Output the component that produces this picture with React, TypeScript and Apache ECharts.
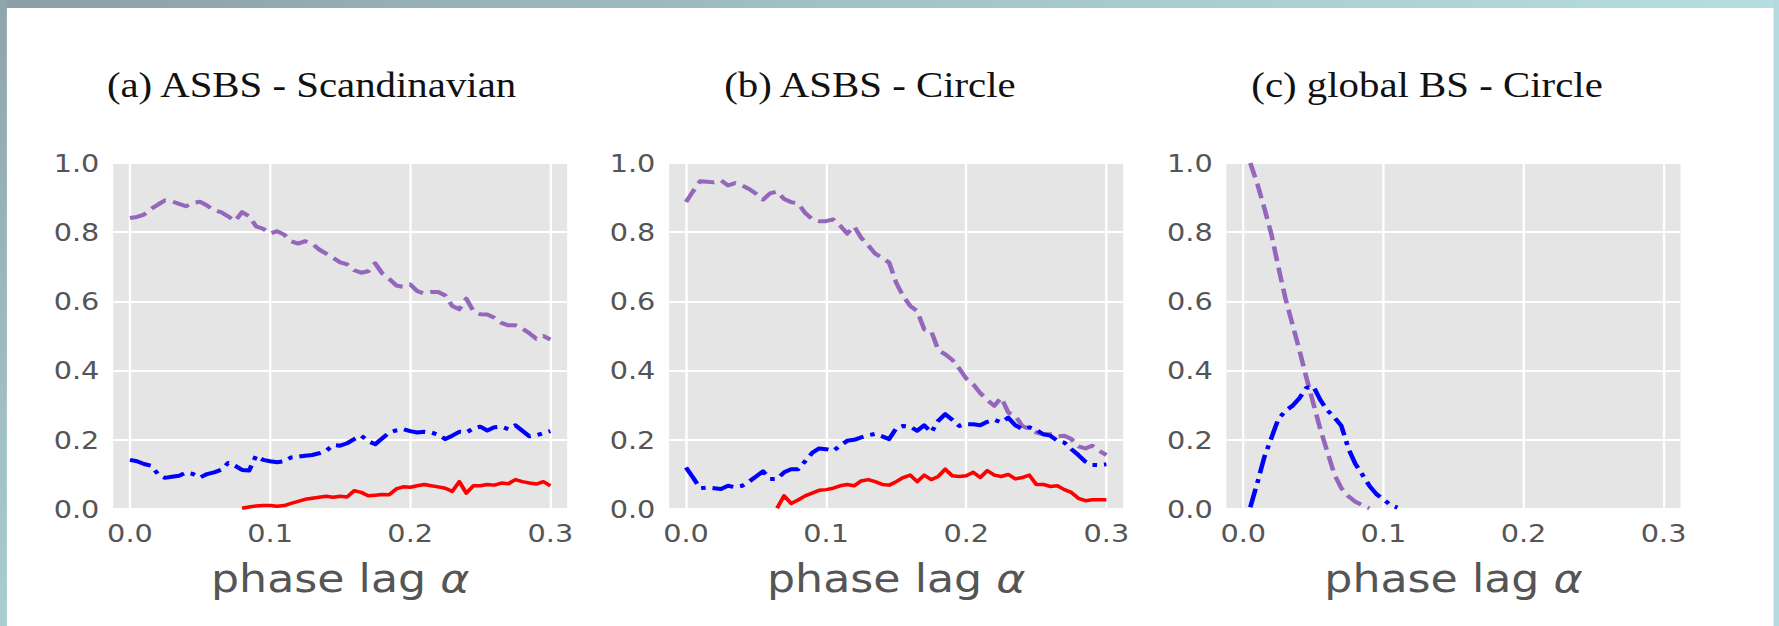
import React, { useEffect, useRef } from "react";
import * as echarts from "echarts";

// phase lag alpha values (x)
const ALPHA = [
  0, 0.005, 0.01, 0.015, 0.02, 0.025, 0.03, 0.035, 0.04, 0.045,
  0.05, 0.055, 0.06, 0.065, 0.07, 0.075, 0.08, 0.085, 0.09, 0.095,
  0.1, 0.105, 0.11, 0.115, 0.12, 0.125, 0.13, 0.135, 0.14, 0.145,
  0.15, 0.155, 0.16, 0.165, 0.17, 0.175, 0.18, 0.185, 0.19, 0.195,
  0.2, 0.205, 0.21, 0.215, 0.22, 0.225, 0.23, 0.235, 0.24, 0.245,
  0.25, 0.255, 0.26, 0.265, 0.27, 0.275, 0.28, 0.285, 0.29, 0.295, 0.3,
];

// (a) ASBS - Scandinavian
const PURPLE_A = [
  0.841, 0.844, 0.851, 0.867, 0.88, 0.892, 0.889, 0.882, 0.875, 0.885,
  0.888, 0.877, 0.863, 0.858, 0.846, 0.832, 0.858, 0.846, 0.817, 0.81,
  0.796, 0.803, 0.793, 0.774, 0.767, 0.774, 0.767, 0.75, 0.738, 0.726,
  0.713, 0.707, 0.69, 0.683, 0.687, 0.71, 0.681, 0.665, 0.646, 0.642,
  0.649, 0.63, 0.623, 0.627, 0.627, 0.617, 0.587, 0.577, 0.608, 0.572,
  0.563, 0.562, 0.553, 0.538, 0.531, 0.531, 0.521, 0.508, 0.492, 0.5, 0.49,
];
const BLUE_A = [
  0.142, 0.138, 0.13, 0.125, 0.101, 0.09, 0.093, 0.096, 0.105, 0.101,
  0.091, 0.101, 0.106, 0.113, 0.133, 0.125, 0.113, 0.111, 0.154, 0.142,
  0.138, 0.135, 0.138, 0.149, 0.151, 0.154, 0.156, 0.161, 0.168, 0.185,
  0.183, 0.19, 0.202, 0.212, 0.196, 0.187, 0.204, 0.221, 0.227, 0.231,
  0.225, 0.221, 0.223, 0.221, 0.215, 0.202, 0.212, 0.223, 0.221, 0.233,
  0.238, 0.227, 0.236, 0.238, 0.231, 0.242, 0.226, 0.21, 0.213, 0.219, 0.225,
];
const RED_A = [
  null, null, null, null, null, null, null, null, null, null,
  null, null, null, null, null, null, 0.002, 0.006, 0.009, 0.01,
  0.01, 0.008, 0.01, 0.016, 0.022, 0.028, 0.031, 0.034, 0.037, 0.034,
  0.037, 0.035, 0.053, 0.048, 0.038, 0.04, 0.042, 0.041, 0.058, 0.064,
  0.063, 0.067, 0.071, 0.067, 0.064, 0.06, 0.051, 0.079, 0.046, 0.067,
  0.067, 0.071, 0.069, 0.075, 0.073, 0.085, 0.079, 0.075, 0.072, 0.079, 0.067,
];

// (b) ASBS - Circle
const PURPLE_B = [
  0.887, 0.918, 0.947, 0.946, 0.944, 0.95, 0.935, 0.942, 0.935, 0.925,
  0.911, 0.894, 0.912, 0.918, 0.896, 0.887, 0.883, 0.856, 0.838, 0.832,
  0.832, 0.837, 0.819, 0.796, 0.817, 0.784, 0.762, 0.738, 0.726, 0.712,
  0.654, 0.615, 0.587, 0.572, 0.519, 0.514, 0.46, 0.447, 0.431, 0.406,
  0.377, 0.36, 0.335, 0.315, 0.298, 0.322, 0.279, 0.269, 0.24, 0.231,
  0.221, 0.216, 0.216, 0.21, 0.212, 0.202, 0.181, 0.175, 0.183, 0.168, 0.156,
];
const BLUE_B = [
  0.12, 0.091, 0.06, 0.062, 0.06, 0.058, 0.067, 0.063, 0.067, 0.079,
  0.094, 0.109, 0.087, 0.087, 0.106, 0.115, 0.115, 0.138, 0.162, 0.175,
  0.173, 0.168, 0.183, 0.197, 0.2, 0.207, 0.213, 0.217, 0.21, 0.202,
  0.233, 0.24, 0.238, 0.226, 0.242, 0.221, 0.255, 0.274, 0.258, 0.24,
  0.245, 0.245, 0.242, 0.252, 0.258, 0.25, 0.264, 0.242, 0.231, 0.236,
  0.229, 0.216, 0.212, 0.197, 0.192, 0.173, 0.156, 0.137, 0.127, 0.127, 0.129,
];
const RED_B = [
  null, null, null, null, null, null, null, null, null, null,
  null, null, null, 0.002, 0.038, 0.016, 0.026, 0.038, 0.046, 0.054,
  0.056, 0.06, 0.067, 0.071, 0.067, 0.081, 0.085, 0.079, 0.071, 0.069,
  0.079, 0.091, 0.098, 0.079, 0.098, 0.085, 0.094, 0.115, 0.096, 0.094,
  0.096, 0.106, 0.091, 0.111, 0.098, 0.094, 0.1, 0.087, 0.091, 0.098,
  0.071, 0.071, 0.065, 0.067, 0.056, 0.048, 0.031, 0.024, 0.027, 0.027, 0.027,
];

// (c) global BS - Circle
const PURPLE_C = [
  null, 1.0, 0.94, 0.87, 0.795, 0.7, 0.61, 0.535, 0.46, 0.38,
  0.305, 0.23, 0.165, 0.1, 0.06, 0.037, 0.021, 0.011, 0.002,
];
const BLUE_C = [
  null, 0.005, 0.075, 0.15, 0.205, 0.26, 0.283, 0.298, 0.32, 0.35,
  0.354, 0.315, 0.285, 0.265, 0.24, 0.175, 0.13, 0.099, 0.067, 0.043,
  0.028, 0.012, 0.004,
];
const RED_C: (number | null)[] = [];

const TITLES = ["(a) ASBS - Scandinavian", "(b) ASBS - Circle", "(c) global BS - Circle"];
const X_NAME = "phase lag ";
const X_SYMBOL = "α";

const PANELS = [
  { purple: PURPLE_A, blue: BLUE_A, red: RED_A },
  { purple: PURPLE_B, blue: BLUE_B, red: RED_B },
  { purple: PURPLE_C, blue: BLUE_C, red: RED_C },
];

// layout (in unscaled chart coordinates; the whole chart is stretched horizontally)
const SX = 1.15;
const FULL_W = 1779;
const FULL_H = 626;
const W = FULL_W / SX;
const GRID_LEFT = [98.4, 581.9, 1066.5];
const GRID_W = 394.8;
const GRID_TOP = 163;
const GRID_H = 346;
const TITLE_X = [270.9, 756.5, 1240.9];

const FONT = "DejaVu Sans";
const TICK_COLOR = "#555555";

function pairs(vals: (number | null)[]) {
  const out: [number, number][] = [];
  vals.forEach((v, i) => {
    if (v !== null && v !== undefined) out.push([ALPHA[i], v]);
  });
  return out;
}

export default function App() {
  const ref = useRef<HTMLDivElement>(null);

  useEffect(() => {
    if (!ref.current) return;
    const chart = echarts.init(ref.current, null, { renderer: "svg" });

    const grid = GRID_LEFT.map((l) => ({
      left: l,
      top: GRID_TOP,
      width: GRID_W,
      height: GRID_H,
      show: true,
      backgroundColor: "#e5e5e5",
      borderWidth: 0,
    }));

    const xAxis = GRID_LEFT.map((_, i) => ({
      type: "value",
      gridIndex: i,
      min: -0.012,
      max: 0.312,
      splitNumber: 3,
      minInterval: 0.1,
      maxInterval: 0.1,
      axisLine: { show: false },
      axisTick: { show: false },
      axisLabel: {
        showMinLabel: false,
        showMaxLabel: false,
        formatter: (v: number) => v.toFixed(1),
        fontFamily: FONT,
        fontSize: 25,
        color: TICK_COLOR,
        margin: 12,
      },
      splitLine: {
        show: true,
        showMinLine: false,
        showMaxLine: false,
        lineStyle: { color: "#ffffff", width: 2 },
      },
      name: `{t|${X_NAME}}{a|${X_SYMBOL}}`,
      nameLocation: "middle",
      nameGap: 50,
      nameTextStyle: {
        fontFamily: FONT,
        fontSize: 38.5,
        color: TICK_COLOR,
        rich: {
          t: { fontFamily: FONT, fontSize: 38.5, color: TICK_COLOR },
          a: { fontFamily: FONT, fontSize: 38.5, color: TICK_COLOR, fontStyle: "italic" },
        },
      },
    }));

    const yAxis = GRID_LEFT.map((_, i) => ({
      type: "value",
      gridIndex: i,
      min: 0,
      max: 1,
      interval: 0.2,
      axisLine: { show: false },
      axisTick: { show: false },
      axisLabel: {
        formatter: (v: number) => v.toFixed(1),
        fontFamily: FONT,
        fontSize: 25,
        color: TICK_COLOR,
        margin: 12,
        padding: [0, 0, 6, 0],
      },
      splitLine: { show: true, lineStyle: { color: "#ffffff", width: 2 } },
    }));

    const series: any[] = [];
    PANELS.forEach((p, i) => {
      series.push({
        type: "line",
        xAxisIndex: i,
        yAxisIndex: i,
        data: pairs(p.purple),
        symbol: "none",
        showSymbol: false,
        silent: true,
        lineStyle: { color: "#9467bd", width: 4, type: [15, 6.5], join: "round", cap: "butt" },
      });
      series.push({
        type: "line",
        xAxisIndex: i,
        yAxisIndex: i,
        data: pairs(p.blue),
        symbol: "none",
        showSymbol: false,
        silent: true,
        lineStyle: { color: "#0000ff", width: 4, type: [19, 6, 4, 6], join: "round", cap: "butt" },
      });
      series.push({
        type: "line",
        xAxisIndex: i,
        yAxisIndex: i,
        data: pairs(p.red),
        symbol: "none",
        showSymbol: false,
        silent: true,
        lineStyle: { color: "#ff0000", width: 3.5, join: "round" },
      });
    });

    const graphic: any[] = [
      {
        type: "rect",
        shape: { x: 0, y: 0, width: W, height: 8 },
        style: {
          fill: new echarts.graphic.LinearGradient(0, 0, 1, 0, [
            { offset: 0, color: "#8a9fa4" },
            { offset: 0.5, color: "#a3c4c7" },
            { offset: 1, color: "#b6dee1" },
          ]),
        },
        silent: true,
      },
      {
        type: "rect",
        shape: { x: 0, y: 0, width: 6, height: FULL_H },
        style: {
          fill: new echarts.graphic.LinearGradient(0, 0, 0, 1, [
            { offset: 0, color: "#8ea5a9" },
            { offset: 1, color: "#a9cdd0" },
          ]),
        },
        silent: true,
      },
      {
        type: "rect",
        shape: { x: W - 4.8, y: 0, width: 4.8, height: FULL_H },
        style: { fill: "#b3dadd" },
        silent: true,
      },
      ...TITLES.map((t, i) => ({
        type: "text",
        x: TITLE_X[i],
        y: 85,
        style: {
          text: t,
          fontFamily: "Liberation Serif",
          fontSize: 35.5,
          fill: "#111111",
          align: "center",
          verticalAlign: "middle",
        },
        silent: true,
      })),
    ];

    chart.setOption({
      animation: false,
      backgroundColor: "#ffffff",
      grid,
      xAxis,
      yAxis,
      series,
      graphic,
    } as any);

    return () => chart.dispose();
  }, []);

  return (
    <div
      style={{
        position: "fixed",
        left: 0,
        top: 0,
        width: FULL_W,
        height: FULL_H,
        overflow: "hidden",
        background: "#ffffff",
      }}
    >
      <div
        ref={ref}
        style={{
          width: W,
          height: FULL_H,
          transform: `scaleX(${SX})`,
          transformOrigin: "0 0",
        }}
      />
    </div>
  );
}
